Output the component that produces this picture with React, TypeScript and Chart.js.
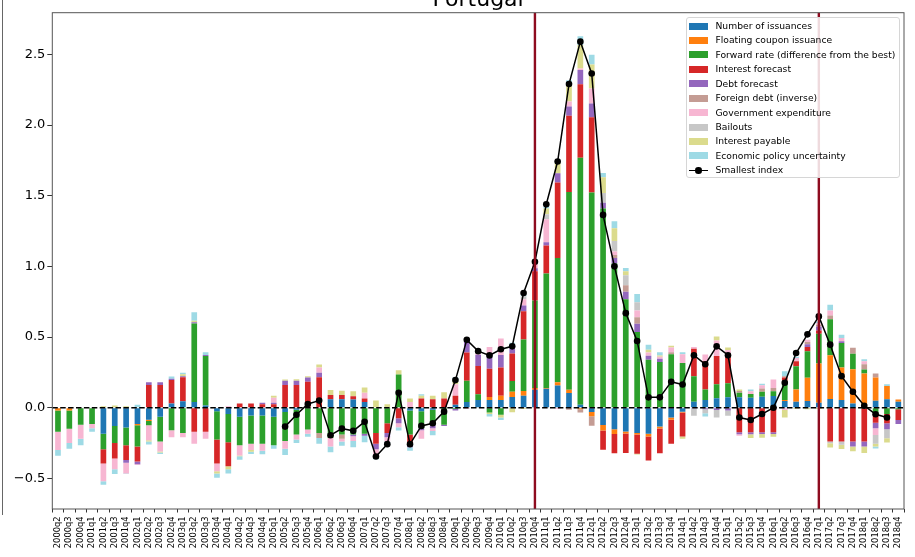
import React, { useEffect, useRef } from 'react';
import { Chart, registerables } from 'chart.js';

Chart.register(...registerables);

const quarters: string[] = [
  '2000q2', '2000q3', '2000q4',
  '2001q1', '2001q2', '2001q3', '2001q4',
  '2002q1', '2002q2', '2002q3', '2002q4',
  '2003q1', '2003q2', '2003q3', '2003q4',
  '2004q1', '2004q2', '2004q3', '2004q4',
  '2005q1', '2005q2', '2005q3', '2005q4',
  '2006q1', '2006q2', '2006q3', '2006q4',
  '2007q1', '2007q2', '2007q3', '2007q4',
  '2008q1', '2008q2', '2008q3', '2008q4',
  '2009q1', '2009q2', '2009q3', '2009q4',
  '2010q1', '2010q2', '2010q3', '2010q4',
  '2011q1', '2011q2', '2011q3', '2011q4',
  '2012q1', '2012q2', '2012q3', '2012q4',
  '2013q1', '2013q2', '2013q3', '2013q4',
  '2014q1', '2014q2', '2014q3', '2014q4',
  '2015q1', '2015q2', '2015q3', '2015q4',
  '2016q1', '2016q2', '2016q3', '2016q4',
  '2017q1', '2017q2', '2017q3', '2017q4',
  '2018q1', '2018q2', '2018q3', '2018q4',
];

const numberOfIssuances = [
  0, 0, 0, 0, -0.185, -0.13, -0.14, -0.115, -0.085, -0.065,
  0.03, 0.045, 0.04, 0.015, -0.025, -0.045, -0.065, -0.055, -0.055, -0.065,
  -0.03, -0.015, 0, 0, 0.06, 0.06, 0.057, 0.04, 0, 0,
  0, -0.02, -0.025, -0.015, 0, 0.02, 0.04, 0.055, 0.055, 0.055,
  0.075, 0.085, 0.127, 0.134, 0.157, 0.103, 0.02, -0.03, -0.122, -0.153,
  -0.169, -0.18, -0.185, -0.134, -0.07, -0.028, 0.042, 0.054, 0.066, 0.073,
  0.073, 0.07, 0.077, 0.082, 0.047, 0.042, 0.047, 0.035, 0.061, 0.054,
  0.03, 0, 0.049, 0.059, 0.042,
];

const floatingCoupon = [
  -0.02, -0.02, 0, 0, 0, 0, 0, -0.01, -0.01, 0,
  0, 0, 0, 0, 0, 0, 0, 0, 0, 0,
  0, 0, 0, 0, 0, 0, 0, 0, 0, 0,
  0, 0, 0, 0, 0, 0, 0, 0, 0.02, 0.03,
  0.037, 0.033, 0.012, 0.005, 0.023, 0.023, -0.012, -0.03, -0.04, -0.033,
  -0.014, -0.01, -0.019, -0.014, -0.016, -0.007, 0, 0, 0, 0,
  0, 0, 0, 0, 0.007, 0.087, 0.164, 0.277, 0.31, 0.23,
  0.242, 0.242, 0.164, 0.094, 0.016,
];

const forwardRate = [
  -0.15, -0.13, -0.12, -0.115, -0.11, -0.12, -0.125, -0.15, -0.03, -0.175,
  -0.16, -0.18, 0.555, 0.35, -0.2, -0.2, -0.2, -0.2, -0.2, -0.2,
  -0.205, -0.175, -0.155, -0.18, -0.215, -0.19, -0.19, -0.185, -0.18, -0.11,
  0.235, -0.17, -0.12, -0.11, -0.12, -0.01, 0.15, 0.04, -0.035, -0.05,
  0.077, 0.365, 0.62, 0.81, 0.88, 1.4, 1.748, 1.523, 1.41, 1.02,
  0.768, 0.535, 0.34, 0.324, 0.378, 0.317, 0.18, 0.075, 0.1, 0.1,
  0.033, 0.026, 0.035, 0.035, 0.136, 0.164, 0.188, 0.211, 0.254, 0.174,
  0.11, 0.028, -0.04, -0.045, -0.012,
];

const interestForecast = [
  0, 0, 0, 0, -0.1, -0.11, -0.105, -0.105, 0.16, 0.16,
  0.165, 0.17, -0.17, -0.17, -0.17, -0.17, 0.03, 0.03, 0.025, 0.025,
  0.16, 0.16, 0.183, 0.215, 0.03, 0.03, 0.023, 0.025, -0.075, -0.07,
  -0.075, -0.065, 0.065, 0.06, 0.065, 0.065, 0.2, 0.2, 0.2, 0.2,
  0.195, 0.2, 0.207, 0.198, 0.533, 0.54, 0.521, 0.533, -0.136, -0.136,
  -0.138, -0.136, -0.169, -0.174, -0.169, -0.169, 0.195, 0.2, 0.2, 0.21,
  -0.174, -0.174, -0.174, -0.174, 0.023, 0.035, 0.03, 0.023, -0.239, -0.239,
  -0.239, -0.239, -0.066, -0.066, -0.075,
];

const debtForecast = [
  0, 0, 0, 0, 0, 0, -0.02, -0.02, 0.02, 0.02,
  0.01, 0.007, 0.01, 0.007, 0, 0, 0, 0, 0.01, 0.01,
  0.03, 0.03, 0.03, 0.033, 0, 0, -0.012, -0.014, -0.04, -0.03,
  -0.035, -0.025, -0.015, -0.02, -0.01, -0.01, 0.085, 0.08, 0.1, 0.087,
  0.035, 0.04, 0.02, 0.023, 0.066, 0.066, 0.1, 0.096, 0.04, 0.04,
  0.052, 0.059, 0.028, 0.023, 0, 0, -0.005, -0.012, -0.016, -0.02,
  -0.014, -0.014, -0.012, -0.012, 0, 0, 0.019, 0.028, 0, 0.012,
  -0.035, -0.035, -0.04, -0.042, -0.028,
];

const foreignDebt = [
  0, 0, 0, 0, 0, 0, 0, 0, 0, 0,
  0, 0, 0, 0, 0, 0, 0, 0, 0, 0,
  0, 0, 0, -0.035, 0, -0.03, 0, 0, 0, 0,
  0, 0, 0, 0, 0, 0, 0, 0, 0, 0,
  0, 0, 0, 0, 0, -0.015, -0.023, -0.068, 0, 0.02,
  0.047, 0.046, 0, 0, 0.014, 0, 0, 0, 0, 0,
  0.012, 0, 0.023, 0.023, 0.01, 0, 0.016, 0.012, 0.028, 0,
  0.042, 0.038, 0.028, 0, 0,
];

const governmentExpenditure = [
  -0.13, -0.1, -0.1, -0.03, -0.125, -0.075, -0.075, -0.005, -0.105, -0.07,
  -0.05, -0.03, -0.085, -0.05, -0.055, 0.01, -0.073, -0.045, -0.05, 0.035,
  -0.055, -0.035, -0.03, 0.037, -0.06, -0.02, -0.033, 0.04, -0.04, -0.03,
  -0.028, 0.04, -0.06, -0.02, 0, 0.08, -0.01, 0.01, 0.055, 0.117,
  0.02, 0.045, 0.03, 0.164, -0.01, 0.035, 0.012, 0.106, 0, 0.025,
  0, 0.048, 0.023, 0.013, 0.033, 0.061, 0.012, 0.047, 0.11, 0.023,
  -0.01, 0.02, 0.023, 0.059, -0.016, 0.023, 0.016, 0.012, 0.035, 0.023,
  0, 0.021, -0.047, 0, 0,
];

const bailouts = [
  0, 0, 0, 0, 0, 0, 0, 0, 0, 0,
  0, 0, 0, 0, 0, 0, 0, 0, 0, 0,
  0, 0, 0, 0, 0, 0, 0, 0, 0, 0,
  0, 0, 0, 0, 0, 0, 0, 0, 0, 0,
  0.01, 0.02, 0, 0.035, 0, 0, 0, 0, 0.07, 0.075,
  0.07, 0.058, 0, 0, 0, 0, -0.052, -0.028, -0.054, -0.037,
  0, 0, 0, 0, 0, 0, 0, 0, -0.012, -0.023,
  0, 0, -0.063, -0.063, 0,
];

const interestPayable = [
  0, 0, 0, 0, 0.01, 0.015, 0.01, 0, -0.01, -0.007,
  0, 0.015, 0.01, 0, -0.015, -0.02, -0.005, -0.012, 0, 0.015,
  0.01, 0.012, 0.01, 0.02, 0.035, 0.03, 0.037, 0.037, 0.05, 0.025,
  0.03, 0.025, 0.02, 0.025, 0.045, 0.03, 0, 0, -0.01, -0.02,
  -0.033, -0.01, 0, 0.04, 0.075, 0.13, 0.165, 0.17, 0.11, 0.09,
  0.028, -0.005, 0.019, 0.01, 0.014, -0.016, 0, 0, 0.028, 0.019,
  0.011, -0.026, -0.026, -0.019, -0.054, -0.01, -0.012, -0.01, -0.03, -0.03,
  -0.035, -0.047, -0.019, -0.03, 0,
];

const policyUncertainty = [
  -0.04, -0.04, -0.045, -0.025, -0.025, -0.035, -0.005, 0.02, -0.02, -0.01,
  0.015, 0.01, 0.06, 0.02, -0.03, -0.03, -0.025, -0.015, -0.025, -0.025,
  -0.045, -0.025, -0.02, -0.04, -0.04, -0.03, -0.045, -0.045, -0.03, -0.02,
  -0.023, -0.025, 0.01, -0.03, 0, 0.02, 0, 0, -0.017, -0.017,
  0.01, 0.01, 0.035, 0.016, 0.01, 0.02, 0.063, 0.07, 0.03, 0.05,
  0.023, 0.059, 0.035, 0.023, 0, 0.014, 0, -0.023, 0, 0,
  0, 0.012, 0.012, 0, 0.035, 0.01, 0, 0.01, 0.04, 0.023,
  0, 0.014, -0.014, 0.012, 0,
];

const smallestIndex: (number | null)[] = [
  null, null, null, null, null, null, null, null, null, null,
  null, null, null, null, null, null, null, null, null, null,
  -0.134, -0.05, 0.026, 0.05, -0.195, -0.148, -0.164, -0.1, -0.345, -0.258,
  0.106, -0.258, -0.129, -0.11, -0.028, 0.195, 0.48, 0.4, 0.37, 0.413,
  0.434, 0.812, 1.033, 1.44, 1.742, 2.29, 2.59, 2.365, 1.364, 1.0,
  0.669, 0.472, 0.073, 0.073, 0.183, 0.164, 0.371, 0.307, 0.434, 0.371,
  -0.07, -0.087, -0.045, 0.0, 0.176, 0.387, 0.519, 0.646, 0.446, 0.223,
  0.113, 0.014, -0.047, -0.07, null,
];

const seriesLabels = [
  'Number of issuances',
  'Floating coupon issuance',
  'Forward rate (difference from the best)',
  'Interest forecast',
  'Debt forecast',
  'Foreign debt (inverse)',
  'Government expenditure',
  'Bailouts',
  'Interest payable',
  'Economic policy uncertainty',
];
const seriesValues = [
  numberOfIssuances, floatingCoupon, forwardRate, interestForecast, debtForecast,
  foreignDebt, governmentExpenditure, bailouts, interestPayable, policyUncertainty,
];
const seriesColors = [
  '#1f77b4', '#ff7f0e', '#2ca02c', '#d62728', '#9467bd',
  '#c49c94', '#f7b6d2', '#c7c7c7', '#dbdb8d', '#9edae5',
];
const lineLabel = 'Smallest index';
const chartTitle = 'Portugal';
const eventQuarters = ['2010q4', '2017q1'];
const yTicks = [-0.5, 0, 0.5, 1, 1.5, 2, 2.5];
const yMin = -0.717;
const yMax = 2.795;

const FONT = "'DejaVu Sans', sans-serif";

const overlayPlugin = {
  id: 'overlay',
  afterDatasetsDraw(chart: any) {
    const { ctx, chartArea, scales } = chart;
    const { left, right, top, bottom } = chartArea;
    const x = scales.x;
    const y = scales.y;
    ctx.save();
    const y0 = y.getPixelForValue(0);
    ctx.setLineDash([5.5, 2.4]);
    ctx.lineWidth = 1.5;
    ctx.strokeStyle = '#000';
    ctx.beginPath();
    ctx.moveTo(left, y0);
    ctx.lineTo(right, y0);
    ctx.stroke();
    ctx.setLineDash([]);
    ctx.strokeStyle = '#8e0b1f';
    ctx.lineWidth = 2.4;
    for (const q of eventQuarters) {
      const xp = x.getPixelForValue(quarters.indexOf(q));
      ctx.beginPath();
      ctx.moveTo(xp, top);
      ctx.lineTo(xp, bottom);
      ctx.stroke();
    }
    ctx.strokeStyle = '#555';
    ctx.lineWidth = 1;
    ctx.strokeRect(left, top, right - left, bottom - top);
    ctx.restore();
  },
};

function Legend() {
  const rowH = 14.43;
  return (
    <div
      style={{
        position: 'absolute',
        left: 686,
        top: 17,
        width: 214,
        height: 161,
        boxSizing: 'border-box',
        border: '1px solid #d6d6d6',
        borderRadius: 3,
        background: 'rgba(255,255,255,0.85)',
        fontFamily: FONT,
        fontSize: 9.2,
        color: '#000',
      }}
    >
      {seriesLabels.map((lab, i) => (
        <div key={lab} style={{ position: 'absolute', left: 0, top: 8 + i * rowH - 7, height: 14, width: 212 }}>
          <div style={{ position: 'absolute', left: 1.5, top: 3.5, width: 19, height: 7, background: seriesColors[i] }} />
          <div style={{ position: 'absolute', left: 28.5, top: 0, lineHeight: '14px', whiteSpace: 'nowrap' }}>{lab}</div>
        </div>
      ))}
      <div style={{ position: 'absolute', left: 0, top: 8 + 10 * rowH - 7, height: 14, width: 212 }}>
        <div style={{ position: 'absolute', left: 1.5, top: 6.3, width: 19, height: 1.5, background: '#000' }} />
        <div style={{ position: 'absolute', left: 8, top: 4, width: 6.5, height: 6.5, borderRadius: '50%', background: '#000' }} />
        <div style={{ position: 'absolute', left: 28.5, top: 0, lineHeight: '14px', whiteSpace: 'nowrap' }}>{lineLabel}</div>
      </div>
    </div>
  );
}

export default function App() {
  const canvasRef = useRef<HTMLCanvasElement | null>(null);

  useEffect(() => {
    const canvas = canvasRef.current;
    if (!canvas) return;
    const datasets: any[] = seriesValues.map((vals, i) => ({
      type: 'bar',
      label: seriesLabels[i],
      data: vals,
      backgroundColor: seriesColors[i],
      borderWidth: 0,
      stack: 'bars',
      order: 1,
      barPercentage: 0.5,
      categoryPercentage: 1,
    }));
    datasets.push({
      type: 'line',
      label: lineLabel,
      data: smallestIndex,
      borderColor: '#000',
      borderWidth: 1.5,
      pointRadius: 3.3,
      pointBackgroundColor: '#000',
      pointBorderWidth: 0,
      pointHoverRadius: 3.3,
      spanGaps: false,
      stack: 'line',
      order: 0,
      tension: 0,
    });

    const chart = new Chart(canvas, {
      type: 'bar',
      data: { labels: quarters, datasets },
      plugins: [overlayPlugin],
      options: {
        responsive: false,
        animation: false,
        devicePixelRatio: 1,
        layout: { autoPadding: false, padding: { top: 0, right: 11, left: 0, bottom: 0 } },
        plugins: {
          legend: { display: false },
          tooltip: { enabled: false },
          title: {
            display: true,
            text: chartTitle,
            fullSize: false,
            color: '#000',
            font: { family: FONT, size: 22, weight: 'normal', lineHeight: 1 },
            padding: { top: 9, bottom: 1.7 },
          },
        },
        scales: {
          x: {
            stacked: true,
            offset: true,
            border: { display: false },
            grid: { display: true, drawOnChartArea: false, drawTicks: true, tickLength: 3.5, color: '#333' },
            ticks: {
              autoSkip: false,
              maxRotation: 90,
              minRotation: 90,
              padding: 4,
              color: '#000',
              font: { family: FONT, size: 8.3 },
            },
            afterFit: (scale: any) => { scale.height = 48; },
          },
          y: {
            stacked: true,
            min: yMin,
            max: yMax,
            border: { display: false },
            grid: { display: true, drawOnChartArea: false, drawTicks: true, tickLength: 5, color: '#333' },
            afterBuildTicks: (scale: any) => { scale.ticks = yTicks.map((v) => ({ value: v })); },
            ticks: {
              padding: 2,
              color: '#000',
              font: { family: FONT, size: 13 },
              callback: (v: any) => Number(v).toFixed(1).replace('-', '\u2212'),
            },
            afterFit: (scale: any) => { scale.width = 52.3; },
          },
        },
      } as any,
    });
    return () => chart.destroy();
  }, []);

  return (
    <div style={{ position: 'fixed', left: 0, top: 0, width: 915, height: 557, overflow: 'hidden', background: '#fff' }}>
      <div style={{ position: 'absolute', left: 2, top: 0, width: 1, height: 515, background: '#666' }} />
      <canvas
        ref={canvasRef}
        width={915}
        height={577}
        style={{ position: 'absolute', left: 0, top: -20, width: 915, height: 577, display: 'block' }}
      />
      <Legend />
    </div>
  );
}
